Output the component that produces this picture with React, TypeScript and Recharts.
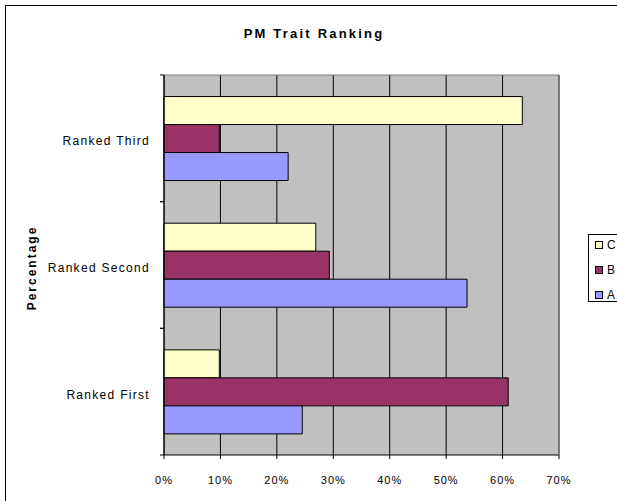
import React from "react";
import {
  BarChart,
  Bar,
  XAxis,
  YAxis,
  CartesianGrid,
} from "recharts";

const categories = ["Ranked Third", "Ranked Second", "Ranked First"];
const valuesC = [63.5, 26.9, 9.8];
const valuesB = [9.8, 29.3, 61.0];
const valuesA = [22.0, 53.7, 24.5];
const xTicks = [0, 10, 20, 30, 40, 50, 60, 70];

const series = [
  { key: "C", values: valuesC, color: "#FFFFCC" },
  { key: "B", values: valuesB, color: "#993366" },
  { key: "A", values: valuesA, color: "#9999FF" },
];

const data = categories.map((name, i) => {
  const row: Record<string, string | number> = { name };
  series.forEach((s) => (row[s.key] = s.values[i]));
  return row;
});

const font = '"Liberation Sans", Arial, sans-serif';
const TICK_SIZE = 6;
const TICK_MARGIN = 8;

// category label plus Excel-style tick marks at the band edges
const CategoryTick = (props: any) => {
  const { x, y, payload } = props;
  const edge = x + TICK_SIZE + TICK_MARGIN;
  const half = payload.offset || 0;
  return (
    <g>
      <line x1={edge - 4} x2={edge} y1={y - half} y2={y - half} stroke="#000" />
      <line x1={edge - 4} x2={edge} y1={y + half} y2={y + half} stroke="#000" />
      <text
        x={x}
        y={y}
        dy={7}
        textAnchor="end"
        fill="#000"
        fontSize={12}
        fontFamily={font}
        letterSpacing={1.3}
      >
        {payload.value}
      </text>
    </g>
  );
};

const App: React.FC = () => {
  return (
    <div
      style={{
        position: "absolute",
        left: 0,
        top: 0,
        width: 617,
        height: 501,
        overflow: "hidden",
        background: "#fff",
        fontFamily: font,
      }}
    >
      {/* chart frame */}
      <div
        style={{
          position: "absolute",
          left: 5,
          top: 5,
          width: 660,
          height: 600,
          border: "1px solid #000",
        }}
      />
      <div
        style={{
          position: "absolute",
          left: 0,
          top: 26,
          width: 628,
          textAlign: "center",
          fontSize: 13,
          fontWeight: "bold",
          letterSpacing: 2.2,
          color: "#000",
        }}
      >
        PM Trait Ranking
      </div>
      <div
        style={{
          position: "absolute",
          left: 32 - 60,
          top: 268 - 8,
          width: 120,
          height: 16,
          lineHeight: "16px",
          textAlign: "center",
          transform: "rotate(-90deg)",
          fontSize: 12,
          fontWeight: "bold",
          letterSpacing: 2,
          color: "#000",
        }}
      >
        Percentage
      </div>

      <div style={{ position: "absolute", left: 0, top: 0 }}>
        <BarChart
          width={617}
          height={501}
          data={data}
          layout="vertical"
          margin={{ top: 74, right: 57, bottom: 16, left: 64 }}
          barCategoryGap="17%"
          barGap={0}
        >
          <CartesianGrid
            horizontal={false}
            stroke="#000"
            strokeOpacity={1}
            fill="#C0C0C0"
            fillOpacity={1}
          />
          <XAxis
            type="number"
            domain={[0, 70]}
            ticks={xTicks}
            tickFormatter={(v: number) => `${v}%`}
            axisLine={{ stroke: "#000" }}
            tickLine={{ stroke: "#000" }}
            tickSize={4}
            tickMargin={17}
            height={30}
            interval={0}
            tick={{ fill: "#000", fontSize: 11, fontFamily: font, letterSpacing: 1 }}
          />
          <XAxis
            xAxisId="top"
            orientation="top"
            type="number"
            domain={[0, 70]}
            height={1}
            tick={false}
            tickLine={false}
            axisLine={{ stroke: "#808080" }}
          />
          <YAxis
            type="category"
            dataKey="name"
            width={100}
            axisLine={{ stroke: "#000" }}
            tickLine={false}
            tickSize={TICK_SIZE}
            tickMargin={TICK_MARGIN}
            interval={0}
            tick={<CategoryTick />}
          />
          <YAxis
            yAxisId="edge"
            orientation="right"
            type="number"
            domain={[0, 3]}
            width={1}
            tick={false}
            tickLine={false}
            axisLine={{ stroke: "#808080" }}
          />
          {series.map((s) => (
            <Bar
              key={s.key}
              dataKey={s.key}
              fill={s.color}
              stroke="#000"
              strokeWidth={1}
              isAnimationActive={false}
            />
          ))}
        </BarChart>
      </div>

      {/* legend */}
      <div
        style={{
          position: "absolute",
          left: 588,
          top: 234,
          width: 60,
          height: 66,
          border: "1px solid #000",
          background: "#fff",
        }}
      >
        {series.map((s, i) => (
          <div
            key={s.key}
            style={{
              position: "absolute",
              left: 6,
              top: 3 + i * 25,
              height: 14,
              display: "flex",
              alignItems: "center",
              fontSize: 12,
              color: "#000",
            }}
          >
            <span
              style={{
                display: "inline-block",
                width: 6,
                height: 6,
                border: "1px solid #000",
                background: s.color,
                marginRight: 4,
              }}
            />
            {s.key}
          </div>
        ))}
      </div>
    </div>
  );
};

export default App;
